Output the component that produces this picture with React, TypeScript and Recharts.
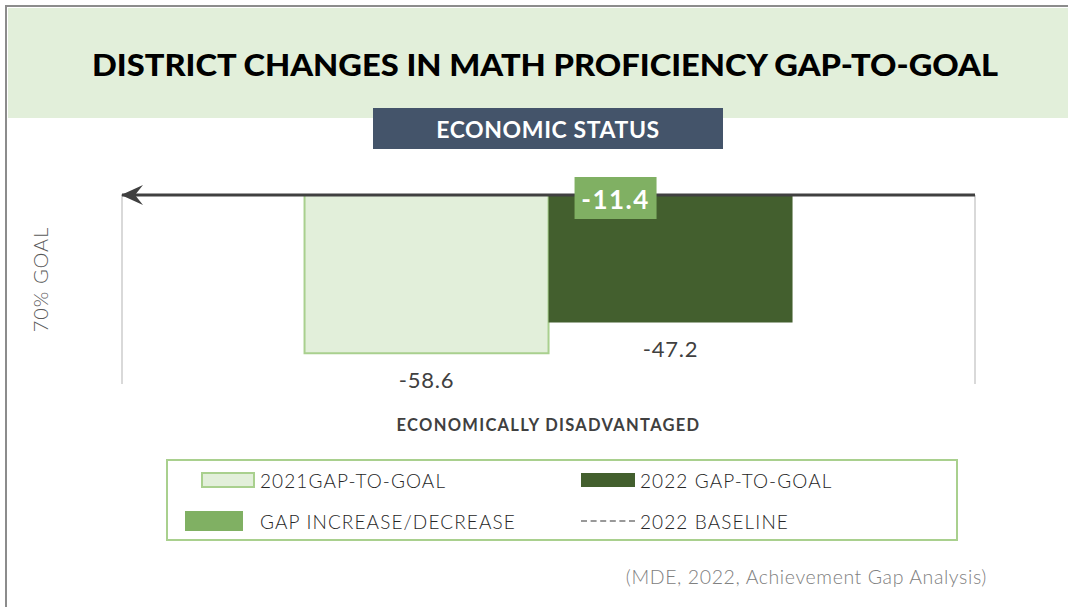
import React from "react";
import {
  BarChart,
  Bar,
  XAxis,
  YAxis,
  CartesianGrid,
  ReferenceLine,
  LabelList,
  Legend,
} from "recharts";

// values
const categories = ["ECONOMICALLY DISADVANTAGED"];
const gap2021 = [-58.6];
const gap2022 = [-47.2];
const gapChange = [-11.4];

const legendItems = [
  { label: "2021GAP-TO-GOAL", kind: "light" },
  { label: "2022 GAP-TO-GOAL", kind: "dark" },
  { label: "GAP INCREASE/DECREASE", kind: "change" },
  { label: "2022 BASELINE", kind: "dash" },
];

const LIGHT = "#e2efda";
const LIGHT_STROKE = "#a9d08e";
const DARK = "#435f2e";
const CHANGE = "#80b063";
const TEXT = "#404040";
const FONT = "Lato, 'Open Sans', sans-serif";

const data = categories.map((name, i) => ({
  name,
  gap2021: gap2021[i],
  gap2022: gap2022[i],
  change: gapChange[i],
}));

// value under the end of a (negative) bar
const renderBelow = (props: any) => {
  const { x, y, width, height, value } = props;
  const bottom = Math.max(y, y + height);
  return (
    <text
      x={x + width / 2}
      y={bottom + 26}
      textAnchor="middle"
      dominantBaseline="central"
      fontFamily={FONT}
      fontSize={22}
      letterSpacing={0.8}
      fill={TEXT}
    >
      {value.toFixed(1)}
    </text>
  );
};

// green box with the change, sitting on the baseline of the 2022 bar
const renderChange = (props: any) => {
  const { x, y, height, value } = props;
  const top = Math.min(y, y + height);
  return (
    <g>
      <rect x={x + 26} y={top - 18} width={82} height={42} fill={CHANGE} />
      <text
        x={x + 67}
        y={top + 4}
        textAnchor="middle"
        dominantBaseline="central"
        fontFamily={FONT}
        fontWeight="bold"
        fontSize={26}
        letterSpacing={1.5}
        fill="#ffffff"
      >
        {value.toFixed(1)}
      </text>
    </g>
  );
};

// baseline arrow head at the left end
const renderArrow = (props: any) => {
  const { viewBox } = props;
  const x = viewBox.x;
  const y = viewBox.y;
  return (
    <path
      d={`M${x - 1},${y} L${x + 21},${y - 10} L${x + 13},${y} L${x + 21},${y + 10} Z`}
      fill="#404040"
    />
  );
};

const renderGoalLabel = (props: any) => {
  const { viewBox } = props;
  const cx = viewBox.x + 18;
  const cy = viewBox.y + viewBox.height / 2 - 10;
  return (
    <text
      x={cx}
      y={cy}
      transform={`rotate(-90 ${cx} ${cy})`}
      textAnchor="middle"
      dominantBaseline="central"
      fontFamily={FONT}
      fontWeight={300}
      fontSize={20}
      letterSpacing={1}
      fill="#595959"
    >
      70% GOAL
    </text>
  );
};

const Swatch = ({ kind }: { kind: string }) => {
  if (kind === "light")
    return (
      <div
        style={{
          width: 50,
          height: 12,
          background: LIGHT,
          border: `2px solid ${LIGHT_STROKE}`,
        }}
      />
    );
  if (kind === "dark")
    return <div style={{ width: 54, height: 14, background: DARK }} />;
  if (kind === "change")
    return <div style={{ width: 58, height: 20, background: CHANGE }} />;
  return (
    <div
      style={{ width: 54, height: 0, borderTop: "2px dashed #999999" }}
    />
  );
};

const renderLegend = () => {
  const pos = [
    { left: 33, top: 7, sw: 54, gap: 5 },
    { left: 413, top: 7, sw: 54, gap: 5 },
    { left: 17, top: 48, sw: 58, gap: 17 },
    { left: 413, top: 48, sw: 54, gap: 5 },
  ];
  return (
    <div
      style={{
        position: "relative",
        width: 788,
        height: 78,
        border: `2px solid ${LIGHT_STROKE}`,
        fontFamily: FONT,
        fontSize: 19,
        fontWeight: 300,
        letterSpacing: 1.1,
        color: "#262626",
      }}
    >
      {legendItems.map((item, i) => (
        <div
          key={item.label}
          style={{
            position: "absolute",
            left: pos[i].left,
            top: pos[i].top,
            height: 24,
            display: "flex",
            alignItems: "center",
          }}
        >
          <div style={{ width: pos[i].sw, display: "flex" }}>
            <Swatch kind={item.kind} />
          </div>
          <span style={{ marginLeft: pos[i].gap, whiteSpace: "nowrap" }}>
            {item.label}
          </span>
        </div>
      ))}
    </div>
  );
};

export default function App() {
  return (
    <div
      style={{
        position: "absolute",
        left: 0,
        top: 0,
        width: 1068,
        height: 607,
        background: "#ffffff",
        overflow: "hidden",
        fontFamily: FONT,
      }}
    >
      {/* frame */}
      <div
        style={{
          position: "absolute",
          left: 5,
          top: 5,
          width: 1080,
          height: 620,
          borderTop: "2px solid #8c8c8c",
          borderLeft: "2px solid #8c8c8c",
        }}
      />
      {/* title banner */}
      <div
        style={{
          position: "absolute",
          left: 8,
          top: 8,
          width: 1060,
          height: 110,
          background: LIGHT,
        }}
      />
      <svg
        style={{ position: "absolute", left: 0, top: 0 }}
        width={1068}
        height={120}
      >
        <text
          x={92}
          y={76}
          textLength={906}
          lengthAdjust="spacingAndGlyphs"
          fontFamily={FONT}
          fontWeight="900"
          fontSize={31}
          fill="#000000"
        >
          DISTRICT CHANGES IN MATH PROFICIENCY GAP-TO-GOAL
        </text>
      </svg>
      <div
        style={{
          position: "absolute",
          left: 373,
          top: 108,
          width: 350,
          height: 41,
          background: "#44546a",
          color: "#ffffff",
          fontWeight: "bold",
          fontSize: 23,
          display: "flex",
          alignItems: "center",
          justifyContent: "center",
          letterSpacing: 0.6,
        }}
      >
        ECONOMIC STATUS
      </div>

      <div style={{ position: "absolute", left: 0, top: 0 }}>
        <BarChart
          width={1068}
          height={607}
          data={data}
          margin={{ top: 195, right: 93, bottom: 163, left: 22 }}
          barCategoryGap="21.4%"
          barGap={0}
        >
          <CartesianGrid
            horizontal={false}
            stroke="#d9d9d9"
            strokeWidth={2}
            verticalCoordinatesGenerator={({ offset }: any) => [
              offset.left,
              offset.left + offset.width,
            ]}
          />
          <XAxis
            dataKey="name"
            axisLine={false}
            tickLine={false}
            height={60}
            tickMargin={29}
            tick={{
              fill: TEXT,
              fontSize: 16.5,
              fontWeight: "bold",
              fontFamily: FONT,
              letterSpacing: 1.3,
            }}
          />
          <YAxis
            width={100}
            domain={[-70, 0]}
            tick={false}
            axisLine={false}
            tickLine={false}
            label={{ content: renderGoalLabel }}
          />
          <Bar
            dataKey="gap2021"
            fill={LIGHT}
            stroke={LIGHT_STROKE}
            strokeWidth={2}
            isAnimationActive={false}
          >
            <LabelList dataKey="gap2021" content={renderBelow} />
          </Bar>
          <Bar dataKey="gap2022" fill={DARK} isAnimationActive={false}>
            <LabelList dataKey="gap2022" content={renderBelow} />
            <LabelList dataKey="change" content={renderChange} />
          </Bar>
          <ReferenceLine
            y={0}
            stroke="#404040"
            strokeWidth={3}
            label={{ content: renderArrow, position: "left" }}
          />
          <Legend
            layout="horizontal"
            verticalAlign="middle"
            align="center"
            content={renderLegend}
            wrapperStyle={{ left: 166, top: 459, width: 792, height: 82 }}
          />
        </BarChart>
      </div>

      <div
        style={{
          position: "absolute",
          right: 81,
          top: 565,
          fontSize: 19.5,
          fontWeight: 300,
          letterSpacing: 0.6,
          color: "#808080",
          whiteSpace: "nowrap",
        }}
      >
        (MDE, 2022, Achievement Gap Analysis)
      </div>
    </div>
  );
}
